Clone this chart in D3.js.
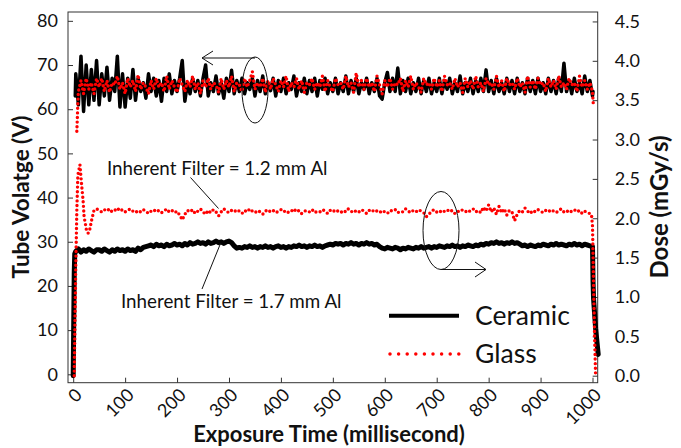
<!DOCTYPE html>
<html><head><meta charset="utf-8">
<script src="https://cdn.jsdelivr.net/npm/d3@7"></script>
<style>
html,body{margin:0;padding:0;background:#fff;}
svg{display:block;font-family:Lato,"Open Sans",sans-serif;}
</style></head>
<body><svg id="chart" width="681" height="448"></svg>
<script>
// ---------- DATA ----------
const xTicks = [0,100,200,300,400,500,600,700,800,900,1000];
const leftTicks = [0,10,20,30,40,50,60,70,80];
const rightTicks = [0,0.5,1.0,1.5,2.0,2.5,3.0,3.5,4.0,4.5];
const seriesNames = ["Ceramic","Glass"];
const bodyStart = 50, bodyStep = 5; // sampling grid of the steady part (ms)

// Tube voltage (V), left axis
const ceramicVoltHeadT = [4,5,10,15,20,25,30,35,40,45];
const ceramicVoltHead  = [63,68,61,72,59.5,70,61,69,62,71];
const ceramicVoltBody = [
61,68,63,69.5,62,67,64,72,60.5,68,
60.5,67,62.5,69,62,67,64,66,62.5,68,
64,67,63,66.5,61.8,67,64,68,63.5,66.5,
64,67,71,61.8,66,63.5,67,64,66.5,63,
67,70,63,66,64,67.5,63.5,66,62.5,67,
64,68.8,63.5,66.5,64,67,63.5,66,64.5,67,
63,66.5,64,67.5,63.5,66,64.2,67,63,66.5,
64,67,63.5,66,64.5,67.5,63,66,64,67,
63.5,66.5,64,67,63,66.5,64.5,67,63.5,66,
64,67,63.5,66,64,67.5,63.5,66.5,64,67,
63.5,66,64.5,67,63.5,66,64,67,63,62.3,
66,68.3,64,67,64,69.3,63.5,66.5,64,67,
63.5,66,64,67,63.5,66.5,64,67,63.5,66,
64,67,63.5,66.5,64.5,67,63.5,66,64,67.5,
63.5,66,64,67,63.5,66.5,64,67,64,68.9,
64,66.5,63.5,67,64,66,63.5,67,64,66.5,
63.5,67,64,66,63.5,67,64,66.5,63.5,67,
64,66,63.5,67,64,66.5,63.5,67,64,70.4,
64,66.5,63.5,67,64,66,63.5,67.5,64,66.5];
const ceramicVoltTailT = [1000,1001];
const ceramicVoltTail  = [63,64];

const glassVoltHeadT = [7,8,9,10,15,20,25,30,35,40,45];
const glassVoltHead  = [55,58,61.5,64,66.5,63.5,67,64.5,66,63.5,67];
const glassVoltBody = [
65,67,64,66.5,63.8,66,65.5,67.5,64.5,66,
63.5,67,65,66.5,64,67.8,64.5,66,65,63.5,
66.5,64.5,67,65,66,64,67.5,64.5,66.5,65,
63.8,67,65.5,64,66.5,65,67.5,64.5,66,63.5,
66.5,65,67,64.5,66,65.5,63.8,67,64.5,66.5,
65,67.5,64,66,65.5,64,67,65,66.5,68.5,
64.5,66,65,67,63.8,66.5,64.5,67,65.5,64,
66.5,65,67.5,64,66,65,67,64.5,66.5,63.8,
66,65.5,67,64.5,66,65,67.5,64,66.5,65,
64,67,65.5,66,64.5,67.5,65,66,63.8,68.2,
65,66.5,64.5,67,65,66,64,67.5,65.5,63.5,
66.5,65,67,64.5,66,65.5,67,64,66.5,65,
67.5,64.5,66,65,63.8,67,65.5,66,64.5,67,
65,66.5,64,67.5,65.5,66,64.5,67,65,66,
63.8,67,65,66.5,64.5,67.5,65,66,64,67,
65.5,66,64.5,67.5,65,66.5,64,67,65.5,66,
64.5,67,65,66,63.8,67.5,65,66.5,64.5,67,
65.5,66,64,67,65,66.5,64.5,67.5,65,66,
64.5,67,65.5,66,64,67.5,65,66.5,64.5,66];
const glassVoltTailT = [1000,1001,1002];
const glassVoltTail  = [64,62,60.5];

// Dose (mGy/s), right axis
const ceramicDoseHeadT = [0,2,3,5,10,15,20,25,30,35,40,45];
const ceramicDoseHead  = [0,1.3,1.55,1.58,1.61,1.57,1.60,1.58,1.61,1.59,1.57,1.60];
const ceramicDoseBody = [
1.60,1.58,1.61,1.59,1.57,1.60,1.58,1.61,1.59,1.60,
1.58,1.61,1.59,1.60,1.58,1.62,1.60,1.63,1.64,1.65,
1.66,1.64,1.67,1.65,1.66,1.64,1.67,1.65,1.66,1.68,
1.66,1.67,1.65,1.68,1.66,1.69,1.67,1.68,1.70,1.68,
1.69,1.67,1.70,1.68,1.69,1.71,1.69,1.70,1.68,1.70,
1.71,1.69,1.65,1.62,1.63,1.62,1.64,1.63,1.65,1.63,
1.64,1.62,1.64,1.63,1.65,1.63,1.64,1.62,1.64,1.65,
1.63,1.64,1.62,1.64,1.63,1.65,1.64,1.66,1.64,1.65,
1.63,1.65,1.64,1.66,1.64,1.65,1.63,1.65,1.66,1.67,
1.66,1.68,1.67,1.68,1.66,1.68,1.67,1.69,1.67,1.68,
1.66,1.68,1.67,1.69,1.67,1.68,1.66,1.67,1.64,1.62,
1.61,1.63,1.62,1.61,1.63,1.62,1.60,1.62,1.61,1.63,
1.62,1.61,1.63,1.62,1.64,1.62,1.63,1.64,1.62,1.64,
1.63,1.65,1.64,1.63,1.65,1.64,1.66,1.64,1.65,1.63,
1.65,1.64,1.66,1.65,1.64,1.66,1.65,1.67,1.66,1.68,
1.67,1.69,1.68,1.70,1.68,1.69,1.67,1.69,1.68,1.70,
1.68,1.69,1.67,1.65,1.66,1.64,1.66,1.65,1.64,1.66,
1.65,1.67,1.66,1.65,1.67,1.66,1.68,1.66,1.67,1.66,
1.65,1.67,1.66,1.68,1.66,1.67,1.65,1.67,1.66,1.65];
const ceramicDoseTailT = [1000,1001,1002,1006,1011];
const ceramicDoseTail  = [1.64,1.2,0.98,0.6,0.27];

const glassDoseHeadT = [2,5,7,9,13,16,19,21,24,26,29,32,35,40,45];
const glassDoseHead  = [0,1.4,2.1,2.55,2.68,2.44,2.23,2.02,1.91,1.83,1.81,1.86,1.96,2.1,2.12];
const glassDoseBody = [
2.10,2.08,2.11,2.09,2.12,2.08,2.10,2.13,2.09,2.11,
2.08,2.10,2.12,2.09,2.07,2.10,2.08,2.11,2.09,2.06,
2.09,2.11,2.08,2.10,2.07,2.09,2.12,2.08,2.10,2.07,
2.09,2.04,1.98,2.05,2.10,2.08,2.11,2.06,2.09,2.12,
2.08,2.05,2.10,2.07,2.11,2.08,2.03,2.08,2.12,2.09,
2.07,2.10,2.08,2.11,2.09,2.06,2.10,2.08,2.12,2.09,
2.07,2.10,2.08,2.05,2.09,2.11,2.08,2.10,2.07,2.09,
2.11,2.08,2.10,2.07,2.09,2.12,2.08,2.10,2.06,2.09,
2.10,2.08,2.11,2.07,2.09,2.08,2.11,2.09,2.06,2.10,
2.08,2.11,2.09,2.07,2.10,2.08,2.12,2.09,2.07,2.10,
2.08,2.11,2.09,2.06,2.10,2.08,2.11,2.09,2.07,2.10,
2.08,2.06,2.10,2.09,2.11,2.07,2.09,2.08,2.12,2.09,
2.07,2.10,2.08,2.11,2.09,2.07,2.02,2.05,2.09,2.11,
2.08,2.10,2.07,2.09,2.11,2.08,2.10,2.06,2.09,2.08,
2.11,2.09,2.07,2.10,2.12,2.08,2.10,2.07,2.14,2.09,
2.17,2.08,2.13,2.05,2.15,2.07,2.12,2.04,2.10,2.08,
1.97,2.05,2.10,2.08,2.13,2.09,2.06,2.10,2.08,2.11,
2.09,2.07,2.10,2.08,2.11,2.09,2.07,2.10,2.12,2.08,
2.10,2.07,2.09,2.11,2.08,2.10,2.06,2.09,2.07,2.06];
const glassDoseTailT = [998,1000,1002,1004,1006];
const glassDoseTail  = [2.05,1.9,1.2,0.5,0.0];

// ---------- BUILD ----------
function build(headT, head, body, tailT, tail){
  const pts = [];
  headT.forEach((t,i)=>pts.push([t, head[i]]));
  body.forEach((v,i)=>pts.push([bodyStart + i*bodyStep, v]));
  tailT.forEach((t,i)=>pts.push([t, tail[i]]));
  return pts;
}
const ceramicVolt = build(ceramicVoltHeadT, ceramicVoltHead, ceramicVoltBody, ceramicVoltTailT, ceramicVoltTail);
const glassVolt   = build(glassVoltHeadT, glassVoltHead, glassVoltBody, glassVoltTailT, glassVoltTail);
const ceramicDose = build(ceramicDoseHeadT, ceramicDoseHead, ceramicDoseBody, ceramicDoseTailT, ceramicDoseTail);
const glassDose   = build(glassDoseHeadT, glassDoseHead, glassDoseBody, glassDoseTailT, glassDoseTail);

const svg = d3.select("#chart");
const L = 68, R = 597.7, T = 12, B = 382.7;
const x  = d3.scaleLinear().domain([-10, 1010]).range([L, R]);
const yL = d3.scaleLinear().domain([-1.9, 82.0]).range([B, T]);
const yR = d3.scaleLinear().domain([-0.089, 4.62]).range([B, T]);

const tickFont = 18;
// axes
const gx = svg.append("g").attr("transform", `translate(0,${B})`)
  .call(d3.axisBottom(x).tickValues(xTicks).tickSizeInner(-5).tickSizeOuter(0).tickFormat(d3.format("d")));
gx.select(".domain").remove();
gx.selectAll(".tick line").attr("stroke","#333");
gx.selectAll(".tick text").attr("x",0).attr("y",0).attr("dy","0.35em")
  .attr("text-anchor","end").attr("transform","translate(5,9) rotate(-45)")
  .attr("font-size",tickFont).attr("font-family","Lato").attr("fill","#111");

const gl = svg.append("g").attr("transform", `translate(${L},0)`)
  .call(d3.axisLeft(yL).tickValues(leftTicks).tickSizeInner(-5).tickSizeOuter(0).tickPadding(10));
gl.select(".domain").remove();
gl.selectAll(".tick line").attr("stroke","#333");
gl.selectAll(".tick text").attr("font-size",tickFont).attr("font-family","Lato").attr("fill","#111");

const gr = svg.append("g").attr("transform", `translate(${R},0)`)
  .call(d3.axisRight(yR).tickValues(rightTicks).tickSizeInner(-5).tickSizeOuter(0).tickPadding(17).tickFormat(d3.format(".1f")));
gr.select(".domain").remove();
gr.selectAll(".tick line").attr("stroke","#333");
gr.selectAll(".tick text").attr("font-size",tickFont).attr("font-family","Lato").attr("fill","#111");

// frame
svg.append("rect").attr("x",L).attr("y",T).attr("width",R-L).attr("height",B-T)
  .attr("fill","none").attr("stroke","#333").attr("stroke-width",1);

// lines
const lineL = d3.line().x(d=>x(d[0])).y(d=>yL(d[1]));
const lineR = d3.line().x(d=>x(d[0])).y(d=>yR(d[1]));
const blackStyle = p => p.attr("fill","none").attr("stroke","#000").attr("stroke-width",3.5).attr("stroke-linejoin","round").attr("stroke-linecap","round");
const redStyle = p => p.attr("fill","none").attr("stroke","#ff0000").attr("stroke-width",3.4).attr("stroke-linecap","round").attr("stroke-dasharray","0 4.6");

svg.append("path").datum(ceramicVolt).attr("d", lineL).call(blackStyle);
svg.append("path").datum(ceramicDose).attr("d", lineR).call(blackStyle).attr("stroke-width",5);
svg.append("path").datum(glassVolt).attr("d", lineL).call(redStyle);
svg.append("path").datum(glassDose).attr("d", lineR).call(redStyle);

// annotations
const ann = svg.append("g").attr("fill","none").attr("stroke","#111").attr("stroke-width",1);
ann.append("ellipse").attr("cx",255).attr("cy",90).attr("rx",13).attr("ry",33);
ann.append("path").attr("d","M255,58 L202,58 M213,51 L202,58 L213,65");
ann.append("ellipse").attr("cx",441).attr("cy",230.5).attr("rx",18).attr("ry",39);
ann.append("path").attr("d","M441,269.5 L486,269.5 M475,262 L486,269.5 L475,277");
ann.append("path").attr("d","M190.5,177.5 L218.5,208.5");
ann.append("path").attr("d","M202,289 L220.5,243.5");

svg.append("text").attr("x",107).attr("y",175).attr("font-size",18.8).attr("fill","#111")
  .text("Inherent Filter = 1.2 mm Al");
svg.append("text").attr("x",121).attr("y",308).attr("font-size",18.8).attr("fill","#111")
  .text("Inherent Filter = 1.7 mm Al");

// legend
const lg = svg.append("g");
lg.append("line").attr("x1",389).attr("x2",459).attr("y1",315.7).attr("y2",315.7)
  .attr("stroke","#000").attr("stroke-width",4);
lg.append("line").attr("x1",390).attr("x2",459).attr("y1",354).attr("y2",354)
  .attr("stroke","#ff0000").attr("stroke-width",3.5).attr("stroke-linecap","round").attr("stroke-dasharray","0 8.6");
lg.append("text").attr("x",475).attr("y",325).attr("font-size",26.5).attr("fill","#111").text(seriesNames[0]);
lg.append("text").attr("x",475).attr("y",363).attr("font-size",26.5).attr("fill","#111").text(seriesNames[1]);

// axis titles
svg.append("text").attr("transform","translate(29,197) rotate(-90)").attr("text-anchor","middle")
  .attr("font-weight","bold").attr("font-size",22.5).attr("fill","#111").text("Tube Volatge (V)");
svg.append("text").attr("transform","translate(668,207) rotate(-90)").attr("text-anchor","middle")
  .attr("font-weight","bold").attr("font-size",24).attr("fill","#111").text("Dose (mGy/s)");
svg.append("text").attr("x",329).attr("y",442).attr("text-anchor","middle")
  .attr("font-weight","bold").attr("font-size",22).attr("fill","#111").text("Exposure Time (millisecond)");
</script>
</body></html>
